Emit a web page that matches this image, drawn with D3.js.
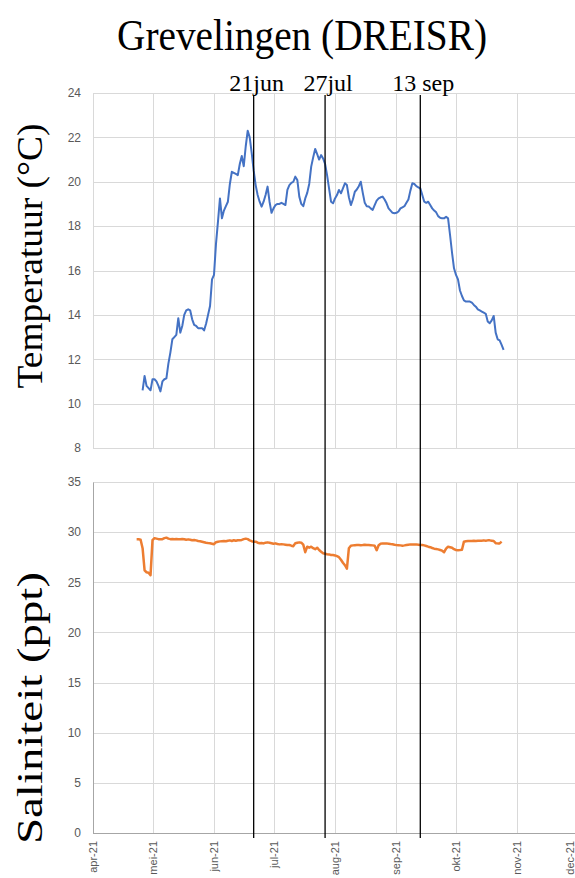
<!DOCTYPE html>
<html>
<head>
<meta charset="utf-8">
<script src="https://cdn.jsdelivr.net/npm/d3@7"></script>
<style>
  body { margin: 0; background: #fff; }
  .tick-label { font-family: "Liberation Sans", "DejaVu Sans", sans-serif; font-size: 12px; fill: #595959; }
  .serif { font-family: "Liberation Serif", "Times New Roman", serif; fill: #000; }
</style>
</head>
<body>
<div id="chart"></div>
<script>
// daily values, Grevelingen (DREISR), 2021
var tempStart = "2021-04-26";
var temperature = [
  10.6, 11.25, 10.8, 10.7, 10.6, 11.1, 11.1, 11.0, 10.8, 10.55,
  11.0, 11.1, 11.14, 11.8, 12.3, 12.9, 13.0, 13.1, 13.85, 13.2,
  13.5, 14.0, 14.2, 14.25, 14.2, 13.8, 13.55, 13.5, 13.4, 13.4,
  13.4, 13.3, 13.6, 14.0, 14.4, 15.6, 15.8, 17.2, 18.2, 19.25,
  18.35, 18.7, 18.9, 19.1, 19.9, 20.45, 20.4, 20.35, 20.3, 20.8,
  21.16, 20.7, 21.6, 22.3, 22.0, 21.3, 20.5, 19.85, 19.4, 19.1,
  18.88, 19.1, 19.4, 19.78, 19.1, 18.6, 18.8, 18.95, 19.0, 19.0,
  19.05, 19.0, 18.95, 19.63, 19.85, 19.95, 20.0, 20.23, 20.08, 19.33,
  19.0, 18.9, 19.25, 19.5, 19.9, 20.68, 21.1, 21.48, 21.25, 21.0,
  21.2, 21.05, 20.8, 20.3, 19.7, 19.1, 19.03, 19.25, 19.4, 19.63,
  19.48, 19.7, 19.93, 19.85, 19.3, 18.95, 19.2, 19.55, 19.65, 19.8,
  20.0, 19.5, 19.05, 18.9, 18.88, 18.8, 18.73, 18.95, 19.15, 19.25,
  19.3, 19.33, 19.2, 19.03, 18.8, 18.7, 18.6, 18.58, 18.6, 18.66,
  18.8, 18.85, 18.9, 19.05, 19.2, 19.6, 19.93, 19.9, 19.8, 19.75,
  19.7, 19.4, 19.1, 19.05, 19.1, 18.95, 18.8, 18.7, 18.62, 18.45,
  18.38, 18.35, 18.35, 18.42, 18.35, 17.6, 16.8, 16.1, 15.8, 15.6,
  15.1, 14.85, 14.65, 14.6, 14.6, 14.6, 14.55, 14.45, 14.37, 14.25,
  14.2, 14.15, 14.1, 14.05, 13.7, 13.62, 13.75, 13.95, 13.2, 12.9,
  12.85, 12.65, 12.42
];

var salStart = "2021-04-23";
var salinity = [
  29.3, 29.3, 29.25, 28.4, 26.2, 26.0, 25.95, 25.7, 29.2, 29.4,
  29.35, 29.3, 29.3, 29.3, 29.4, 29.45, 29.35, 29.3, 29.32, 29.3,
  29.32, 29.3, 29.3, 29.32, 29.3, 29.25, 29.28, 29.25, 29.2, 29.22,
  29.18, 29.12, 29.1, 29.05, 29.0, 28.95, 28.92, 28.9, 28.85, 28.8,
  29.0, 29.05, 29.08, 29.1, 29.12, 29.1, 29.15, 29.18, 29.12, 29.2,
  29.15, 29.2, 29.18, 29.22, 29.3, 29.35, 29.3, 29.18, 29.1, 29.05,
  29.05, 28.95, 28.9, 28.92, 28.88, 28.95, 28.98, 28.95, 28.9, 28.85,
  28.88, 28.82, 28.78, 28.8, 28.78, 28.75, 28.72, 28.72, 28.65, 28.6,
  28.9, 28.95, 28.98, 28.95, 28.75, 28.0, 28.55, 28.45, 28.55, 28.4,
  28.3, 28.45, 28.22, 28.05, 27.9, 27.85, 27.8, 27.78, 27.72, 27.72,
  27.68, 27.6, 27.5, 27.25, 26.95, 26.7, 26.35, 28.4, 28.65, 28.68,
  28.7, 28.72, 28.72, 28.7, 28.72, 28.75, 28.72, 28.72, 28.7, 28.68,
  28.65, 28.2, 28.7, 28.85, 28.88, 28.88, 28.88, 28.85, 28.82, 28.8,
  28.75, 28.72, 28.7, 28.68, 28.65, 28.68, 28.72, 28.75, 28.78, 28.78,
  28.78, 28.78, 28.75, 28.72, 28.72, 28.68, 28.62, 28.55, 28.5, 28.42,
  28.35, 28.32, 28.28, 28.22, 28.15, 28.0, 28.35, 28.55, 28.5, 28.45,
  28.3, 28.22, 28.2, 28.22, 28.25, 29.05, 29.1, 29.12, 29.12, 29.12,
  29.15, 29.12, 29.15, 29.15, 29.15, 29.18, 29.15, 29.18, 29.18, 29.15,
  29.12, 28.9, 28.88, 28.88, 29.05
];

var monthLabels = ["apr-21", "mei-21", "jun-21", "jul-21", "aug-21", "sep-21", "okt-21", "nov-21", "dec-21"];
var eventDates = ["2021-06-21", "2021-07-27", "2021-09-13"];
var eventLabels = ["21jun", "27jul", "13 sep"];
var tempTicks = [8, 10, 12, 14, 16, 18, 20, 22, 24];
var salTicks = [0, 5, 10, 15, 20, 25, 30, 35];

var W = 575, H = 878;
var left = 93, right = 577;
var top1 = 93, bot1 = 448;
var top2 = 482, bot2 = 833;

var parse = d3.timeParse("%Y-%m-%d");

var svg = d3.select("#chart").append("svg")
    .attr("width", W)
    .attr("height", H);

var x = d3.scaleTime()
    .domain([new Date(2021, 3, 1), new Date(2021, 11, 1)])
    .range([left, right]);
var months = d3.timeMonth.range(new Date(2021, 3, 1), new Date(2021, 11, 2));

var yT = d3.scaleLinear().domain([8, 24]).range([bot1, top1]);
var yS = d3.scaleLinear().domain([0, 35]).range([bot2, top2]);

function series(start, vals) {
  var s = parse(start);
  return vals.map(function(v, i) { return { date: d3.timeDay.offset(s, i), value: v }; });
}
var tData = series(tempStart, temperature);
var sData = series(salStart, salinity);

function panel(y, ticks, y0, y1, darkAxis) {
  var g = svg.append("g");
  // horizontal grid
  g.selectAll(".hg").data(ticks).enter().append("line")
      .attr("x1", left).attr("x2", W)
      .attr("y1", function(d) { return Math.round(y(d)) + 0.5; })
      .attr("y2", function(d) { return Math.round(y(d)) + 0.5; })
      .attr("stroke", "#d9d9d9").attr("stroke-width", 1);
  // vertical grid
  g.selectAll(".vg").data(months).enter().append("line")
      .attr("x1", function(d) { return Math.round(x(d)) + 0.5; })
      .attr("x2", function(d) { return Math.round(x(d)) + 0.5; })
      .attr("y1", y1).attr("y2", y0)
      .attr("stroke", "#d9d9d9").attr("stroke-width", 1);
  // y axis
  var ax = g.append("g")
      .attr("transform", "translate(" + left + ",0)")
      .call(d3.axisLeft(y).tickValues(ticks).tickSize(0).tickPadding(12));
  ax.select(".domain").attr("stroke", darkAxis ? "#a6a6a6" : "#d9d9d9");
  ax.selectAll("text").attr("class", "tick-label").attr("fill", null);
  return g;
}

panel(yT, tempTicks, bot1, top1, false);
panel(yS, salTicks, bot2, top2, true);

// bottom axis line
svg.append("line")
    .attr("x1", left).attr("x2", W)
    .attr("y1", bot2 + 0.5).attr("y2", bot2 + 0.5)
    .attr("stroke", "#a6a6a6");

// x tick labels (last one kept inside the frame)
svg.selectAll(".xl").data(months).enter().append("text")
    .attr("class", "tick-label")
    .style("font-size", "11px")
    .attr("transform", function(d) {
      return "translate(" + Math.min(x(d) + 4, W - 1) + "," + (bot2 + 8) + ") rotate(-90)";
    })
    .attr("text-anchor", "end")
    .text(function(d, i) { return monthLabels[i]; });

// lines
var lineT = d3.line()
    .x(function(d) { return x(d.date); })
    .y(function(d) { return yT(d.value); });
var lineS = d3.line()
    .x(function(d) { return x(d.date); })
    .y(function(d) { return yS(d.value); });

svg.append("path").datum(tData)
    .attr("d", lineT)
    .attr("fill", "none")
    .attr("stroke", "#4472c4")
    .attr("stroke-width", 2)
    .attr("stroke-linejoin", "round");

svg.append("path").datum(sData)
    .attr("d", lineS)
    .attr("fill", "none")
    .attr("stroke", "#ed7d31")
    .attr("stroke-width", 2.5)
    .attr("stroke-linejoin", "round");

// event lines
svg.selectAll(".ev").data(eventDates).enter().append("line")
    .attr("x1", function(d) { return x(parse(d)); })
    .attr("x2", function(d) { return x(parse(d)); })
    .attr("y1", 95).attr("y2", 838)
    .attr("stroke", "#000").attr("stroke-width", 1.3);

svg.selectAll(".evl").data(eventDates).enter().append("text")
    .attr("class", "serif")
    .attr("x", function(d) { return x(parse(d)) + 3; })
    .attr("y", 91)
    .attr("text-anchor", "middle")
    .attr("font-size", 24)
    .text(function(d, i) { return eventLabels[i]; });

// title and axis titles
svg.append("text")
    .attr("class", "serif")
    .attr("x", 302).attr("y", 50)
    .attr("text-anchor", "middle")
    .attr("font-size", 44)
    .attr("textLength", 370)
    .attr("lengthAdjust", "spacingAndGlyphs")
    .text("Grevelingen (DREISR)");

svg.append("text")
    .attr("class", "serif")
    .attr("transform", "translate(42,256) rotate(-90)")
    .attr("text-anchor", "middle")
    .attr("font-size", 35)
    .attr("textLength", 265)
    .attr("lengthAdjust", "spacingAndGlyphs")
    .text("Temperatuur (°C)");

svg.append("text")
    .attr("class", "serif")
    .attr("transform", "translate(42,708) rotate(-90)")
    .attr("text-anchor", "middle")
    .attr("font-size", 35)
    .attr("textLength", 272)
    .attr("lengthAdjust", "spacingAndGlyphs")
    .text("Saliniteit (ppt)");
</script>
</body>
</html>
